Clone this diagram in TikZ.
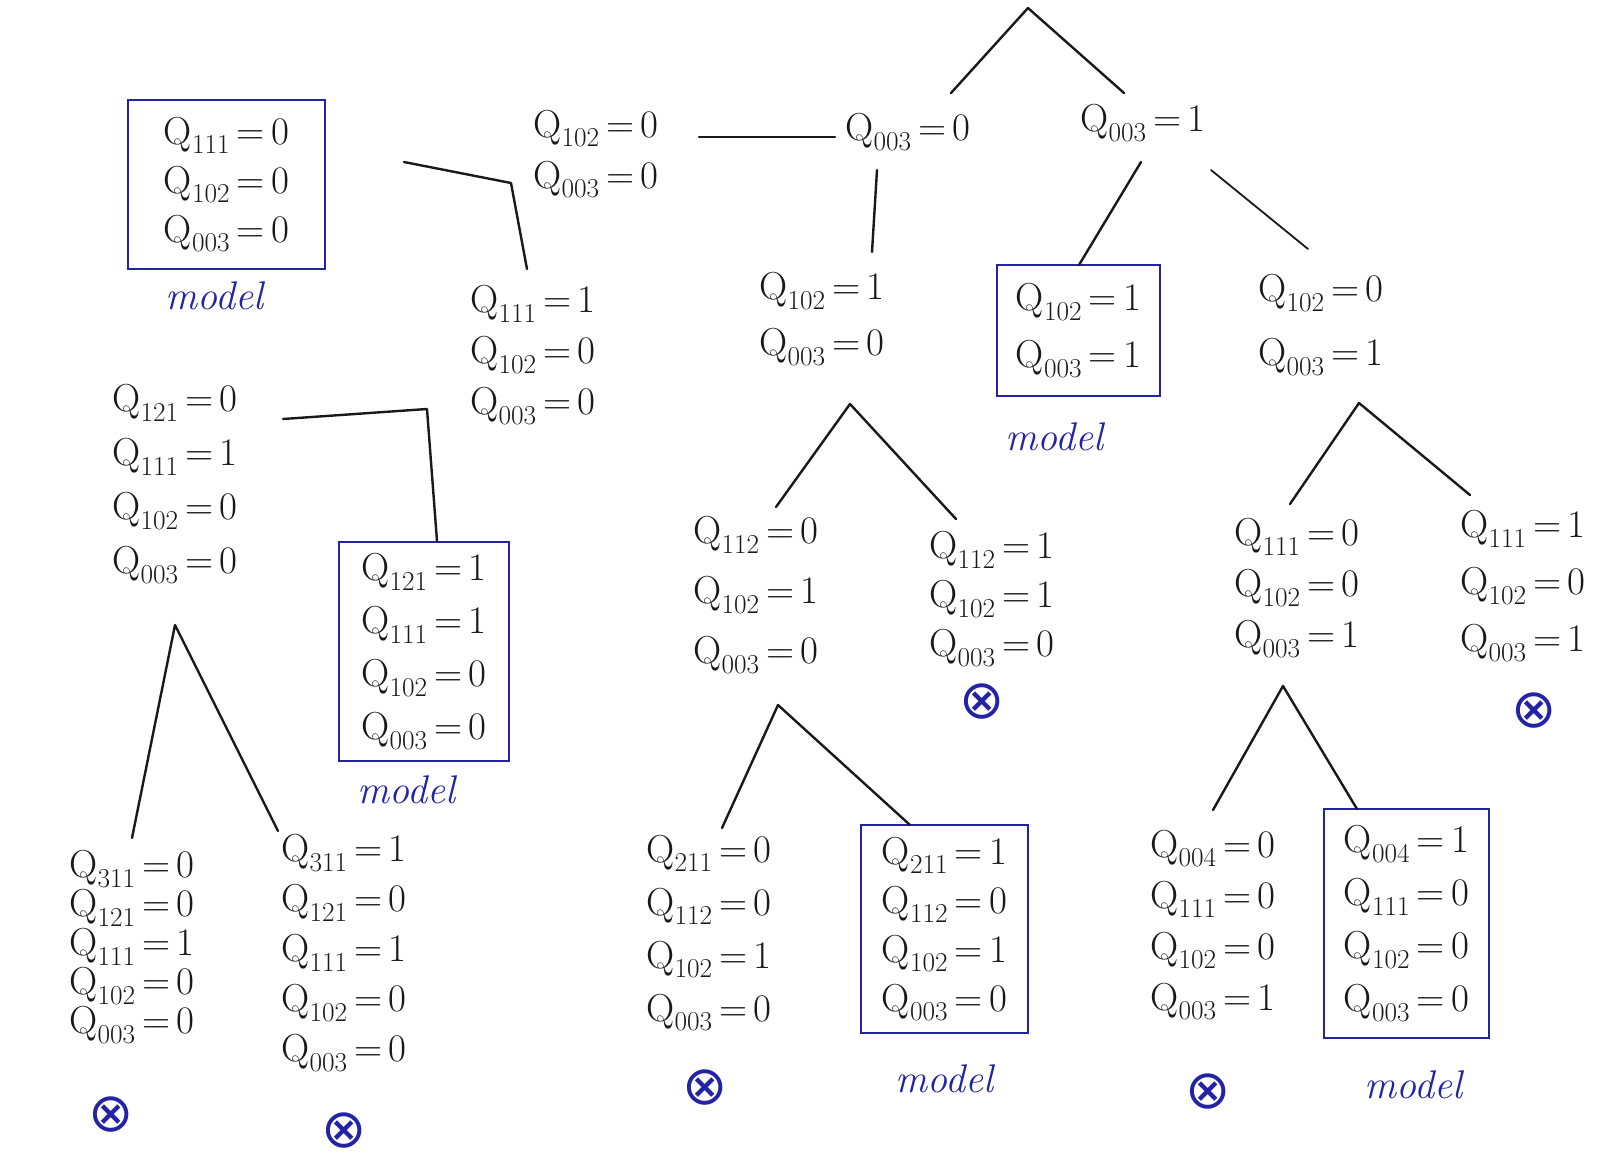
\documentclass[tikz,border=0pt]{standalone}
\usepackage{fontspec}
\newfontfamily\symfont{DejaVu Sans}
\usetikzlibrary{calc}
\definecolor{penblue}{RGB}{35,35,165}
\definecolor{ink}{RGB}{25,25,25}
\newcommand{\qv}[2]{Q\textsubscript{#1}\,=\,#2}
\begin{document}
\begin{tikzpicture}[x=1pt,y=-1pt,
  every node/.style={inner sep=0pt},
  val/.style={align=left, text=ink, font=\fontsize{39}{#1}\selectfont},
  val/.default=50,
  modelbox/.style={draw=penblue, line width=2.4pt, align=left, text=ink, font=\fontsize{39}{#1}\selectfont},
  modelbox/.default=50,
  modeltag/.style={text=penblue, font=\fontsize{40}{40}\selectfont\itshape},
  failmark/.style={text=penblue, font=\symfont\fontsize{54}{54}\selectfont},
  edge/.style={draw=ink, line width=2.4pt, line cap=round, line join=round}]

\useasboundingbox[fill=white] (0,0) rectangle (1612,1168);

% ---- nodes ----
\node[val] (t0) at (908,132) {\qv{003}{0}};
\node[val] (t1) at (1143,123) {\qv{003}{1}};
\node[val=51] (n0a) at (596,154) {\qv{102}{0}\\\qv{003}{0}};

\node[modelbox=49, minimum width=197pt, minimum height=169pt] (b1) at (226.5,184.5) {\qv{111}{0}\\\qv{102}{0}\\\qv{003}{0}};
\node[modeltag] (m1) at (214,296) {model};

\node[val=51] (n1) at (533,355) {\qv{111}{1}\\\qv{102}{0}\\\qv{003}{0}};
\node[val=56] (n2) at (822,319) {\qv{102}{1}\\\qv{003}{0}};
\node[modelbox=57, minimum width=163pt, minimum height=131pt] (b2) at (1078.5,330.5) {\qv{102}{1}\\\qv{003}{1}};
\node[modeltag] (m2) at (1054,437) {model};
\node[val=64] (n3) at (1321,325) {\qv{102}{0}\\\qv{003}{1}};

\node[val=54] (n4) at (175,484) {\qv{121}{0}\\\qv{111}{1}\\\qv{102}{0}\\\qv{003}{0}};
\node[modelbox=53, minimum width=170pt, minimum height=219pt] (b3) at (424,651.5) {\qv{121}{1}\\\qv{111}{1}\\\qv{102}{0}\\\qv{003}{0}};
\node[modeltag] (m3) at (406,790) {model};

\node[val=39] (n5) at (132,947) {\qv{311}{0}\\\qv{121}{0}\\\qv{111}{1}\\\qv{102}{0}\\\qv{003}{0}};
\node[failmark] (x1) at (111,1115) {⊗};
\node[val=50] (n6) at (344,953) {\qv{311}{1}\\\qv{121}{0}\\\qv{111}{1}\\\qv{102}{0}\\\qv{003}{0}};
\node[failmark] (x2) at (344,1131) {⊗};

\node[val=60] (n7) at (756,595) {\qv{112}{0}\\\qv{102}{1}\\\qv{003}{0}};
\node[val=49] (n8) at (992,599) {\qv{112}{1}\\\qv{102}{1}\\\qv{003}{0}};
\node[failmark] (x3) at (982,702) {⊗};

\node[val=53] (n9) at (709,933) {\qv{211}{0}\\\qv{112}{0}\\\qv{102}{1}\\\qv{003}{0}};
\node[failmark] (x4) at (705,1088) {⊗};
\node[modelbox=49, minimum width=167pt, minimum height=208pt] (b4) at (944.5,929) {\qv{211}{1}\\\qv{112}{0}\\\qv{102}{1}\\\qv{003}{0}};
\node[modeltag] (m4) at (944,1079) {model};

\node[val=51] (n10) at (1297,588) {\qv{111}{0}\\\qv{102}{0}\\\qv{003}{1}};
\node[val=57] (n11) at (1523,586) {\qv{111}{1}\\\qv{102}{0}\\\qv{003}{1}};
\node[failmark] (x5) at (1534,711) {⊗};

\node[val=51] (n12) at (1213,925) {\qv{004}{0}\\\qv{111}{0}\\\qv{102}{0}\\\qv{003}{1}};
\node[failmark] (x6) at (1208,1092) {⊗};
\node[modelbox=53, minimum width=165pt, minimum height=229pt] (b5) at (1406.5,923.5) {\qv{004}{1}\\\qv{111}{0}\\\qv{102}{0}\\\qv{003}{0}};
\node[modeltag] (m5) at (1413,1085) {model};

% ---- connector end points ----
\coordinate (rA) at (1028,8);
\coordinate (rL) at (951,93);
\coordinate (rR) at (1124,93);
\coordinate (h0) at (699,137);
\coordinate (h1) at (835,137);
\coordinate (v0) at (877,170);
\coordinate (v1) at (872,252);
\coordinate (d0) at (1141,162);
\coordinate (d1) at (1079,265);
\coordinate (e0) at (1211,170);
\coordinate (e1) at (1308,249);
\coordinate (k0) at (404,162);
\coordinate (k1) at (511,183);
\coordinate (k2) at (527,269);
\coordinate (j0) at (283,419);
\coordinate (j1) at (427,409);
\coordinate (j2) at (437,541);
\coordinate (aL) at (175,625);
\coordinate (aL1) at (132,838);
\coordinate (aL2) at (278,831);
\coordinate (aM) at (850,404);
\coordinate (aM1) at (776,507);
\coordinate (aM2) at (956,519);
\coordinate (aN) at (778,705);
\coordinate (aN1) at (722,828);
\coordinate (aN2) at (910,825);
\coordinate (aR) at (1359,403);
\coordinate (aR1) at (1290,504);
\coordinate (aR2) at (1470,495);
\coordinate (aS) at (1283,686);
\coordinate (aS1) at (1213,810);
\coordinate (aS2) at (1357,809);

% ---- connectors ----
\draw[edge] (rL) -- (rA) -- (rR);
\draw[edge] (h0) -- (h1);
\draw[edge] (v0) -- (v1);
\draw[edge] (d0) -- (d1);
\draw[edge, line width=1.8pt] (e0) -- (e1);
\draw[edge] (k0) -- (k1) -- (k2);
\draw[edge] (j0) -- (j1) -- (j2);
\draw[edge] (aL1) -- (aL) -- (aL2);
\draw[edge] (aM1) -- (aM) -- (aM2);
\draw[edge] (aN1) -- (aN) -- (aN2);
\draw[edge] (aR1) -- (aR) -- (aR2);
\draw[edge] (aS1) -- (aS) -- (aS2);
\end{tikzpicture}
\end{document}
